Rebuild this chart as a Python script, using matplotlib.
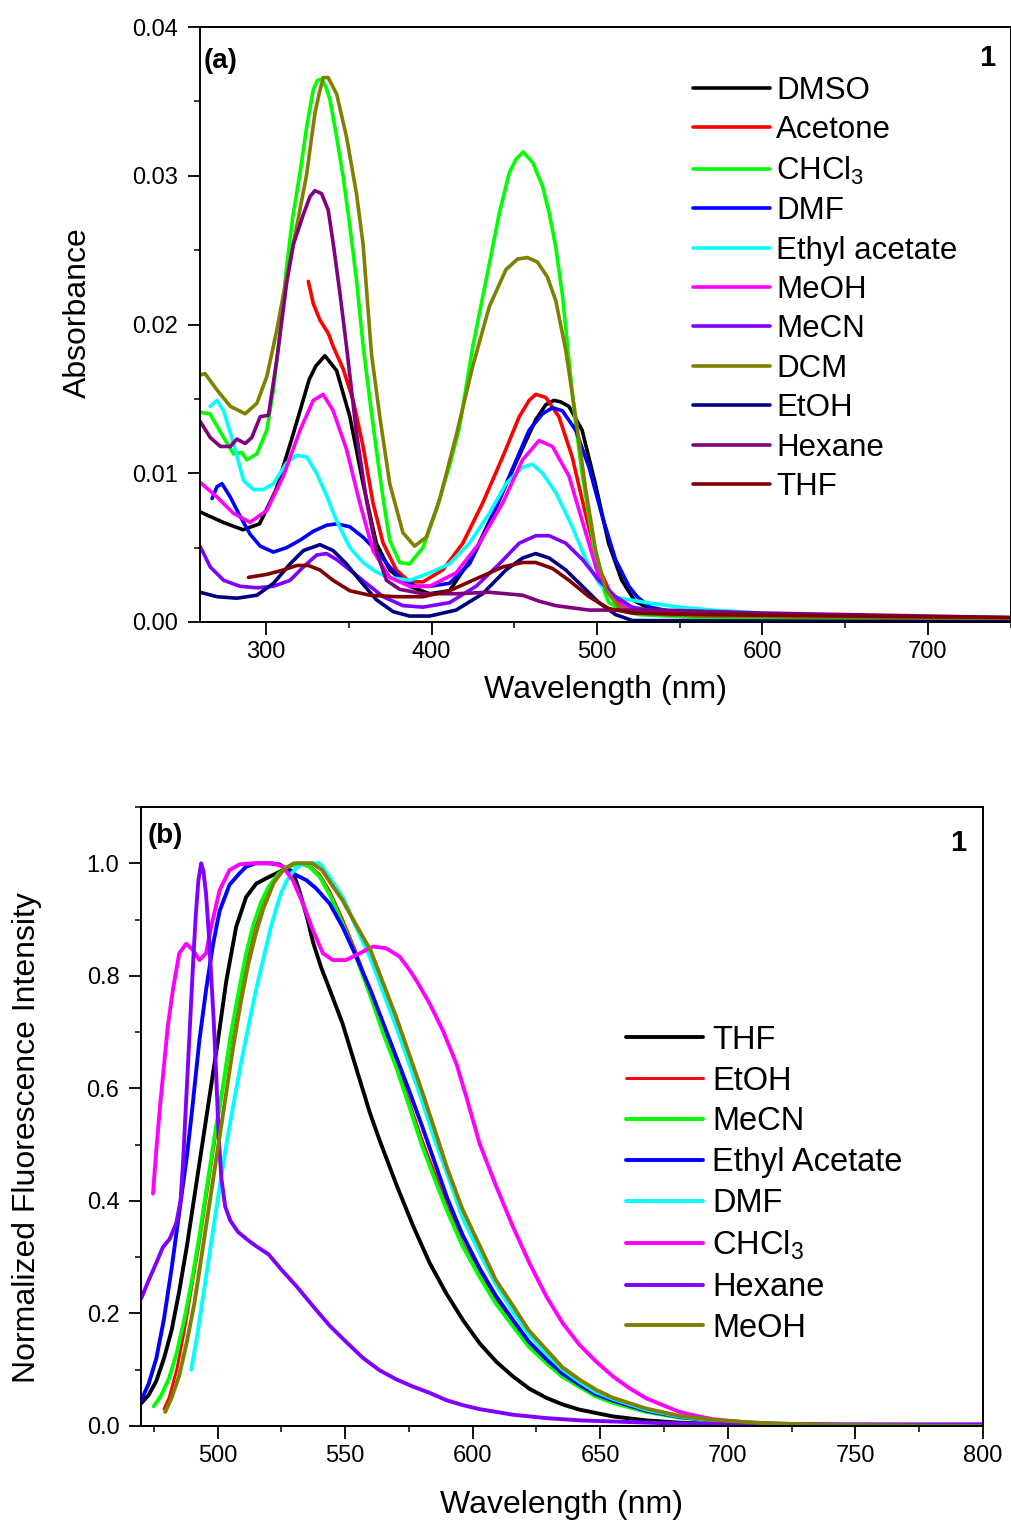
import matplotlib
matplotlib.use("Agg")
import matplotlib.pyplot as plt
from matplotlib.ticker import MultipleLocator, FormatStrFormatter

plt.rcParams['font.family'] = ['Liberation Sans', 'DejaVu Sans']
plt.rcParams['mathtext.fontset'] = 'custom'
plt.rcParams['mathtext.rm'] = 'Liberation Sans'
plt.rcParams['mathtext.it'] = 'Liberation Sans:italic'
plt.rcParams['mathtext.bf'] = 'Liberation Sans:bold'

# ---------------- Panel (a): absorbance ----------------
a_labels = ['DMSO', 'Acetone', 'CHCl$_\\mathregular{3}$', 'DMF', 'Ethyl acetate', 'MeOH',
            'MeCN', 'DCM', 'EtOH', 'Hexane', 'THF']
a_colors = ['#000000', '#FF0000', '#00FF00', '#0000FF', '#00FFFF', '#FF00FF',
            '#8000FF', '#808000', '#000080', '#800080', '#800000']

dmso_wl = [260, 274, 286, 296, 306, 316, 326, 330, 335.5, 342.6, 350.6, 358.6, 366.6, 374.7, 386.7,
           398.8, 410.8, 424.9, 438.9, 451, 463, 469, 474, 478, 483, 491, 499, 507, 515, 523, 535,
           560, 620, 700, 750]
dmso_abs = [.0074, .0067, .0062, .0066, .0089, .0125, .0163, .0172, .0179, .0169, .0138, .0093, .0053,
            .0035, .0024, .0019, .0021, .0044, .0077, .0107, .0136, .0146, .0149, .0148, .0145, .0129,
            .0093, .0053, .0028, .0014, .0007, .0005, .0004, .0003, .0002]

acet_wl = [325.5, 328.5, 332.5, 337.6, 340.6, 346.6, 352.6, 358.6, 364.6, 370.7, 378.7, 386.7, 394.8,
           406.8, 418.9, 430.9, 443, 453, 459, 463, 469, 477, 485, 493, 501, 509, 519, 530, 560, 650, 750]
acet_abs = [.0229, .0214, .0203, .0194, .0185, .0170, .0149, .0118, .0080, .0053, .0035, .0027, .0027,
            .0035, .0053, .0080, .0111, .0138, .0149, .0153, .0151, .0138, .0111, .0073, .0037, .0017,
            .0008, .0005, .0004, .0003, .0002]

chcl3_wl = [260, 266, 274.3, 280.3, 285.3, 288.3, 294.4, 300.4, 304.4, 308.4, 312, 316, 320.5, 324.5,
            328.5, 331, 333.5, 336, 338.6, 342.6, 346.6, 350.6, 354.6, 358.6, 362.6, 366.6, 370.7,
            374.7, 380.7, 386.7, 394.8, 402.8, 410.8, 416.9, 424.9, 433, 441, 447, 451, 455.4, 461.1,
            467.1, 471.1, 475.1, 479.2, 483.2, 487, 491, 495.2, 501.2, 507.2, 515.2, 525, 560, 750]
chcl3_abs = [.0141, .0140, .0124, .0113, .0114, .0109, .0113, .0129, .0156, .0195, .0235, .0272, .0302,
             .0333, .0358, .0364, .0365, .0360, .0351, .0326, .0299, .0266, .0230, .0186, .0150, .0116,
             .0083, .0055, .0040, .0039, .0050, .0075, .0105, .0131, .0185, .0230, .0275, .0302, .0311,
             .0316, .0309, .0293, .0275, .0252, .0219, .0174, .0134, .0100, .0071, .0030, .0013, .0008,
             .0005, .0003, .0001]

dmf_wl = [267.3, 270.3, 273.3, 278.3, 284.3, 290.3, 296.4, 304.4, 312.4, 320.5, 328.5, 336.5, 342.6,
          350.6, 358.6, 366.6, 374.7, 382.7, 390.7, 398.8, 410.8, 422.9, 434.9, 447, 459, 467.1, 473.1,
          479.1, 487.1, 495.2, 503.2, 511.2, 519.3, 524.3, 532, 545, 600, 700, 750]
dmf_abs = [.0083, .0091, .0093, .0084, .0071, .0059, .0051, .0047, .0050, .0055, .0061, .0065, .0066,
           .0064, .0057, .0048, .0037, .0028, .0024, .0024, .0026, .0039, .0066, .0098, .0129, .0140,
           .0144, .0142, .0129, .0104, .0071, .0042, .0024, .0017, .0010, .0007, .0005, .0003, .0002]

etac_wl = [266.2, 270.3, 274.3, 280.3, 286.3, 292.4, 298.4, 304.4, 312.4, 318.5, 324.5, 330.5, 336.5,
           342.6, 350.6, 358.6, 366, 374, 386.7, 398.8, 410.8, 422.9, 434.9, 445, 455, 461, 467.1,
           475.1, 485.1, 493.2, 501.2, 509.2, 519.3, 530, 550, 570, 600, 650, 700, 750]
etac_abs = [.0145, .0149, .0142, .0120, .0095, .0089, .0089, .0093, .0107, .0112, .0111, .0100, .0085,
            .0068, .0050, .0040, .0034, .0030, .0028, .0033, .0039, .0053, .0073, .0093, .0104, .0106,
            .0100, .0087, .0064, .0042, .0026, .0017, .0015, .0013, .0010, .0008, .0006, .0004, .0003,
            .0002]

meoh_wl = [260, 270.3, 280.3, 290.3, 300.4, 310.4, 320.5, 328.5, 334.5, 340.5, 348.6, 356.6, 364.6,
           374.7, 386.7, 398.8, 414.8, 428.9, 443, 455, 465, 473.1, 483.1, 493.2, 501.2, 511.2, 521.3,
           540, 750]
meoh_abs = [.0094, .0084, .0073, .0067, .0075, .0098, .0129, .0149, .0153, .0142, .0116, .0080, .0048,
            .0030, .0024, .0024, .0033, .0053, .0080, .0109, .0122, .0118, .0098, .0060, .0030, .0013,
            .0008, .0005, .0002]

mecn_wl = [260, 266.2, 274.3, 284.3, 294.4, 304.4, 314.4, 322.5, 330.5, 336.5, 342.6, 350.6, 360.6,
           370.7, 382.7, 394.8, 410.8, 426.9, 440.9, 453, 463, 471.1, 481.1, 491.2, 501.2, 511.2, 521.3,
           540, 600, 750]
mecn_abs = [.0051, .0037, .0028, .0024, .0023, .0024, .0028, .0037, .0045, .0046, .0042, .0035, .0026,
            .0017, .0011, .0010, .0013, .0024, .0039, .0053, .0058, .0058, .0053, .0042, .0028, .0017,
            .0010, .0006, .0004, .0002]

dcm_wl = [260, 263, 270.3, 278.3, 287.3, 294.4, 300.4, 306.4, 312.4, 318.5, 324.5, 327.5, 329.5, 332,
          334.5, 337.5, 342.6, 348.6, 354.6, 358.6, 361.6, 363.7, 368.7, 374.7, 382.7, 389.7, 396.8,
          404.8, 414.8, 424.9, 434.9, 445, 452, 458, 464, 470, 475.1, 481.1, 487.1, 493.2, 499.2,
          505.2, 513.2, 525, 560, 750]
dcm_abs = [.0166, .0167, .0156, .0145, .0140, .0147, .0165, .0196, .0232, .0266, .0301, .0326, .0342,
           .0355, .0366, .0366, .0355, .0326, .0288, .0254, .0210, .0180, .0138, .0093, .0060, .0051,
           .0057, .0082, .0125, .0172, .0212, .0237, .0244, .0245, .0242, .0232, .0216, .0183, .0138,
           .0089, .0048, .0022, .0010, .0006, .0004, .0002]

etoh_wl = [260, 270.3, 282.3, 294.4, 304.4, 314.4, 322.5, 332.5, 340.5, 348.6, 356.6, 366.6, 376.7,
           386.7, 398.8, 414.8, 430.9, 445, 455, 463, 471.1, 481.1, 491.2, 501.2, 511.2, 521.3, 750]
etoh_abs = [.0020, .0017, .0016, .0018, .0026, .0039, .0048, .0052, .0048, .0039, .0028, .0015, .0007,
            .0004, .0004, .0008, .0019, .0035, .0043, .0046, .0043, .0035, .0024, .0013, .0005, .0001,
            .0000]

hex_wl = [260, 266.2, 272.3, 278.3, 282.3, 287.3, 291.3, 296.4, 301.4, 306.4, 312.4, 316.5, 322.5,
          326.5, 329.5, 333.5, 337.5, 340.6, 344.6, 348.6, 354.6, 360.6, 366.6, 372.7, 380.7, 394.8,
          414.8, 434.9, 455, 465, 475.1, 495.2, 540, 600, 650, 700, 750]
hex_abs = [.0135, .0124, .0118, .0118, .0123, .0120, .0124, .0138, .0139, .0176, .0228, .0254, .0274,
           .0286, .0290, .0288, .0277, .0254, .0221, .0185, .0127, .0082, .0048, .0028, .0022, .0019,
           .0019, .0020, .0018, .0014, .0011, .0008, .0008, .0006, .0005, .0004, .0003]

thf_wl = [289.3, 300.4, 310.4, 318.5, 325.5, 332.5, 340.5, 350.6, 362.6, 378.7, 394.8, 410.8, 426.9,
          443, 455, 463, 473.1, 483.1, 495.2, 507.2, 521.3, 560, 650, 750]
thf_abs = [.0030, .0032, .0035, .0038, .0038, .0035, .0028, .0021, .0018, .0017, .0017, .0021, .0029,
           .0037, .0040, .0040, .0036, .0028, .0017, .0009, .0006, .0005, .0004, .0003]

a_series = [(dmso_wl, dmso_abs), (acet_wl, acet_abs), (chcl3_wl, chcl3_abs), (dmf_wl, dmf_abs),
            (etac_wl, etac_abs), (meoh_wl, meoh_abs), (mecn_wl, mecn_abs), (dcm_wl, dcm_abs),
            (etoh_wl, etoh_abs), (hex_wl, hex_abs), (thf_wl, thf_abs)]

# ---------------- Panel (b): normalized fluorescence ----------------
b_labels = ['THF', 'EtOH', 'MeCN', 'Ethyl Acetate', 'DMF', 'CHCl$_\\mathregular{3}$', 'Hexane', 'MeOH']
b_colors = ['#000000', '#FF0000', '#00FF00', '#0000FF', '#00FFFF', '#FF00FF', '#8000FF', '#808000']

f_thf_wl = [470, 473, 476, 479, 482, 485, 488, 491, 494, 497, 500, 503.4, 507.3, 511.2, 515.2, 519,
            523, 527, 529.5, 532, 535, 537.4, 540.6, 544, 549, 554.4, 559.6, 563.5, 570, 576.6, 583.1,
            589.6, 596.2, 602.7, 609.3, 615.8, 622.3, 628.9, 635.4, 641.9, 655, 668, 681, 700, 750, 800]
f_thf_i = [0.04, 0.055, 0.08, 0.12, 0.17, 0.24, 0.32, 0.41, 0.50, 0.59, 0.68, 0.79, 0.887, 0.94, 0.964,
           0.973, 0.982, 0.991, 0.985, 0.952, 0.905, 0.860, 0.815, 0.775, 0.715, 0.635, 0.558, 0.508,
           0.430, 0.356, 0.290, 0.236, 0.188, 0.147, 0.114, 0.088, 0.066, 0.050, 0.038, 0.029, 0.017,
           0.010, 0.006, 0.003, 0.001, 0.0]

f_etoh_wl = [479, 481, 484, 487, 490, 493, 496, 499, 502, 505, 508, 511, 514, 517, 520, 524, 528, 532,
             536, 540, 544, 549, 554, 560, 565, 570, 575, 580, 585, 590, 596, 603, 609, 616, 622, 629,
             635, 642, 648, 655, 668, 681, 694, 710, 730, 760, 800]
f_etoh_i = [0.03, 0.05, 0.10, 0.17, 0.25, 0.33, 0.42, 0.51, 0.60, 0.68, 0.755, 0.825, 0.88, 0.925, 0.955,
            0.98, 0.994, 1.0, 0.996, 0.98, 0.95, 0.90, 0.845, 0.77, 0.705, 0.645, 0.578, 0.51, 0.45,
            0.39, 0.325, 0.268, 0.222, 0.18, 0.145, 0.114, 0.091, 0.071, 0.055, 0.043, 0.026, 0.016,
            0.009, 0.005, 0.002, 0.001, 0.0]

f_mecn_wl = [475, 478, 481, 484, 487, 490, 493, 496, 499, 502, 505, 508, 511, 514, 517, 520, 524, 528,
             532, 536, 540, 544, 549, 554, 560, 565, 570, 575, 580, 585, 590, 596, 603, 609, 616, 622,
             629, 635, 642, 648, 655, 668, 681, 694, 710, 730, 760, 800]
f_mecn_i = [0.035, 0.055, 0.085, 0.13, 0.19, 0.26, 0.34, 0.43, 0.52, 0.60, 0.69, 0.765, 0.835, 0.89,
            0.93, 0.958, 0.982, 0.994, 1.0, 0.994, 0.976, 0.944, 0.893, 0.838, 0.763, 0.697, 0.638,
            0.570, 0.50, 0.44, 0.382, 0.32, 0.263, 0.218, 0.176, 0.141, 0.111, 0.088, 0.069, 0.053,
            0.041, 0.025, 0.015, 0.009, 0.005, 0.002, 0.001, 0.0]

f_etac_wl = [470, 473, 476, 479, 482, 485, 488, 490, 492.9, 495.5, 498.2, 500.8, 504.7, 508.6, 511.2,
             515, 520, 524.3, 529.5, 534.8, 538.7, 544, 549, 554, 560, 565, 570, 575, 580, 585, 590,
             596, 603, 609, 616, 622, 629, 635, 642, 648, 655, 668, 681, 694, 710, 730, 760, 800]
f_etac_i = [0.045, 0.075, 0.12, 0.19, 0.28, 0.38, 0.48, 0.56, 0.686, 0.775, 0.855, 0.915, 0.962, 0.982,
            0.994, 1.0, 1.0, 0.998, 0.982, 0.970, 0.955, 0.928, 0.887, 0.838, 0.774, 0.715, 0.656,
            0.597, 0.535, 0.47, 0.405, 0.34, 0.278, 0.232, 0.187, 0.15, 0.118, 0.094, 0.073, 0.057,
            0.045, 0.027, 0.016, 0.010, 0.005, 0.002, 0.001, 0.0]

f_dmf_wl = [489.7, 492, 495, 498, 501, 504, 507, 509, 511, 513, 515, 517, 519, 521, 523, 525, 527, 529,
            531, 533, 535, 540, 544, 549, 554, 560, 565, 570, 575, 580, 585, 590, 596, 603, 609, 616,
            622, 629, 635, 642, 648, 655, 668, 681, 694, 714, 740, 770, 800]
f_dmf_i = [0.10, 0.16, 0.25, 0.34, 0.43, 0.515, 0.59, 0.64, 0.685, 0.73, 0.773, 0.812, 0.85, 0.888,
           0.92, 0.948, 0.968, 0.982, 0.992, 0.998, 1.0, 1.0, 0.975, 0.94, 0.89, 0.83, 0.77, 0.71,
           0.645, 0.58, 0.51, 0.448, 0.37, 0.305, 0.252, 0.202, 0.163, 0.128, 0.101, 0.078, 0.061,
           0.048, 0.029, 0.017, 0.010, 0.005, 0.002, 0.001, 0.0]

f_chcl3_wl = [474.7, 476, 477.5, 479, 480.5, 482.5, 485, 487.7, 490.3, 492.9, 495.5, 497.5, 500.8,
              504.7, 508.6, 513.8, 521.7, 525.6, 529.5, 533.5, 537.4, 541.3, 545.2, 550.4, 555.7,
              560.9, 566.1, 571.4, 575.3, 577.9, 583.1, 588.3, 593.6, 597.5, 602.7, 609.3, 615.8,
              622.3, 628.9, 635.4, 641.9, 648.5, 655, 661.5, 668.1, 674.6, 681.1, 687.7, 694.2,
              707.3, 727, 760, 800]
f_chcl3_i = [0.413, 0.49, 0.57, 0.64, 0.71, 0.775, 0.84, 0.857, 0.846, 0.828, 0.840, 0.887, 0.952,
             0.988, 0.998, 1.0, 1.0, 0.994, 0.970, 0.928, 0.881, 0.840, 0.828, 0.828, 0.840, 0.852,
             0.849, 0.834, 0.810, 0.792, 0.751, 0.703, 0.644, 0.585, 0.502, 0.425, 0.354, 0.289,
             0.230, 0.182, 0.144, 0.114, 0.088, 0.067, 0.049, 0.037, 0.025, 0.018, 0.012, 0.006,
             0.003, 0.001, 0.0]

f_hex_wl = [470.1, 473.3, 476, 478.6, 481.2, 483.8, 485.5, 486.5, 487.5, 488.5, 489.5, 490.5, 491.5,
            492.5, 493.6, 494.5, 495.5, 496.5, 497.5, 498.5, 499.5, 500.5, 501.5, 503, 505, 508, 512,
            515, 520, 525, 531, 537.4, 544, 550.5, 557, 563.5, 570, 576.6, 583.1, 589.6, 596.2,
            602.7, 615.8, 628.9, 641.9, 655, 675, 700, 750, 800]
f_hex_i = [0.227, 0.262, 0.290, 0.318, 0.332, 0.36, 0.40, 0.47, 0.56, 0.65, 0.74, 0.83, 0.91, 0.97,
           1.0, 0.985, 0.945, 0.88, 0.80, 0.72, 0.62, 0.51, 0.44, 0.39, 0.365, 0.345, 0.33, 0.32,
           0.305, 0.278, 0.248, 0.213, 0.178, 0.149, 0.121, 0.099, 0.083, 0.070, 0.059, 0.046, 0.037,
           0.030, 0.020, 0.014, 0.010, 0.008, 0.005, 0.004, 0.003, 0.003]

f_meoh_wl = [479.5, 482, 485, 488, 491, 494, 497, 500, 503, 506, 509, 512, 515, 518, 522, 526, 530,
             537, 541, 544, 549, 554, 560, 565, 570, 575, 580.5, 585, 590, 596, 603, 609, 616, 622,
             629, 635, 642, 648.5, 655, 668, 681, 694, 714, 740, 770, 800]
f_meoh_i = [0.025, 0.05, 0.09, 0.15, 0.22, 0.31, 0.40, 0.49, 0.58, 0.67, 0.75, 0.82, 0.875, 0.92,
            0.965, 0.99, 1.0, 1.0, 0.988, 0.967, 0.934, 0.893, 0.845, 0.786, 0.727, 0.662, 0.59,
            0.528, 0.458, 0.385, 0.318, 0.26, 0.212, 0.17, 0.135, 0.105, 0.082, 0.064, 0.050, 0.031,
            0.018, 0.011, 0.005, 0.002, 0.001, 0.0]

b_series = [(f_thf_wl, f_thf_i), (f_etoh_wl, f_etoh_i), (f_mecn_wl, f_mecn_i), (f_etac_wl, f_etac_i),
            (f_dmf_wl, f_dmf_i), (f_chcl3_wl, f_chcl3_i), (f_hex_wl, f_hex_i), (f_meoh_wl, f_meoh_i)]

# ---------------- Figure ----------------
W, H = 1011, 1524
fig = plt.figure(figsize=(W / 100, H / 100), dpi=100)


def px_axes(l, t, r, b):
    return fig.add_axes([l / W, 1 - b / H, (r - l) / W, (b - t) / H])


ax1 = px_axes(200, 27, 1010.5, 622)
ax2 = px_axes(141, 807, 983, 1426)

TICK_FS = 17
LABEL_FS = 23


def style(ax):
    for s in ax.spines.values():
        s.set_linewidth(1.4)
    ax.tick_params(which='major', direction='out', length=9, width=1.3, labelsize=TICK_FS)
    ax.tick_params(which='minor', direction='out', length=4.5, width=1.1)
    ax.tick_params(axis='x', which='major', pad=5)
    ax.tick_params(axis='y', which='major', pad=6.5)


# Panel (a)
handles = []
for (wl, ab), lab, col in zip(a_series, a_labels, a_colors):
    h, = ax1.plot(wl, ab, color=col, lw=2.6, label=lab, solid_capstyle='round',
                  solid_joinstyle='round')
    handles.append(h)
ax1.set_xlim(260, 750)
ax1.set_ylim(0, 0.04)
ax1.xaxis.set_major_locator(MultipleLocator(100))
ax1.xaxis.set_minor_locator(MultipleLocator(50))
ax1.yaxis.set_major_locator(MultipleLocator(0.01))
ax1.yaxis.set_minor_locator(MultipleLocator(0.005))
ax1.yaxis.set_major_formatter(FormatStrFormatter('%.2f'))
ax1.xaxis.set_major_formatter(FormatStrFormatter('%d'))
style(ax1)
ax1.set_xlabel('Wavelength (nm)', fontsize=LABEL_FS, va='center')
ax1.xaxis.set_label_coords(0.5, -0.114)
ax1.set_ylabel('Absorbance', fontsize=LABEL_FS, va='center')
ax1.yaxis.set_label_coords(-0.1506, 0.52)
ax1.legend(handles=handles, loc='upper left', bbox_to_anchor=(0.6086, 0.9176), frameon=False,
           fontsize=22.5, handlelength=2.45, handletextpad=0.2, labelspacing=0.30,
           borderpad=0, borderaxespad=0)
ax1.text(0.005, 0.943, '(a)', transform=ax1.transAxes, fontsize=20, fontweight='bold',
         ha='left', va='center')
ax1.text(0.981, 0.948, '1', transform=ax1.transAxes, fontsize=21, fontweight='bold',
         ha='right', va='center')

# Panel (b)
handles = []
for (wl, iv), lab, col in zip(b_series, b_labels, b_colors):
    lw = 2.1 if lab == 'EtOH' else 2.8
    h, = ax2.plot(wl, iv, color=col, lw=lw, label=lab, solid_capstyle='round',
                  solid_joinstyle='round')
    handles.append(h)
ax2.set_xlim(470, 800)
ax2.set_ylim(0, 1.1)
ax2.xaxis.set_major_locator(MultipleLocator(50))
ax2.xaxis.set_minor_locator(MultipleLocator(25))
ax2.yaxis.set_major_locator(MultipleLocator(0.2))
ax2.yaxis.set_minor_locator(MultipleLocator(0.1))
ax2.yaxis.set_major_formatter(FormatStrFormatter('%.1f'))
ax2.xaxis.set_major_formatter(FormatStrFormatter('%d'))
style(ax2)
ax2.set_xlabel('Wavelength (nm)', fontsize=LABEL_FS, va='center')
ax2.xaxis.set_label_coords(0.5, -0.128)
ax2.set_ylabel('Normalized Fluorescence Intensity', fontsize=LABEL_FS, va='center')
ax2.yaxis.set_label_coords(-0.1354, 0.466)
ax2.legend(handles=handles, loc='upper left', bbox_to_anchor=(0.576, 0.648), frameon=False,
           fontsize=23.5, handlelength=2.35, handletextpad=0.3, labelspacing=0.30,
           borderpad=0, borderaxespad=0)
ax2.text(0.008, 0.953, '(b)', transform=ax2.transAxes, fontsize=20, fontweight='bold',
         ha='left', va='center')
ax2.text(0.980, 0.942, '1', transform=ax2.transAxes, fontsize=21, fontweight='bold',
         ha='right', va='center')

fig.savefig('out.png', dpi=100)
